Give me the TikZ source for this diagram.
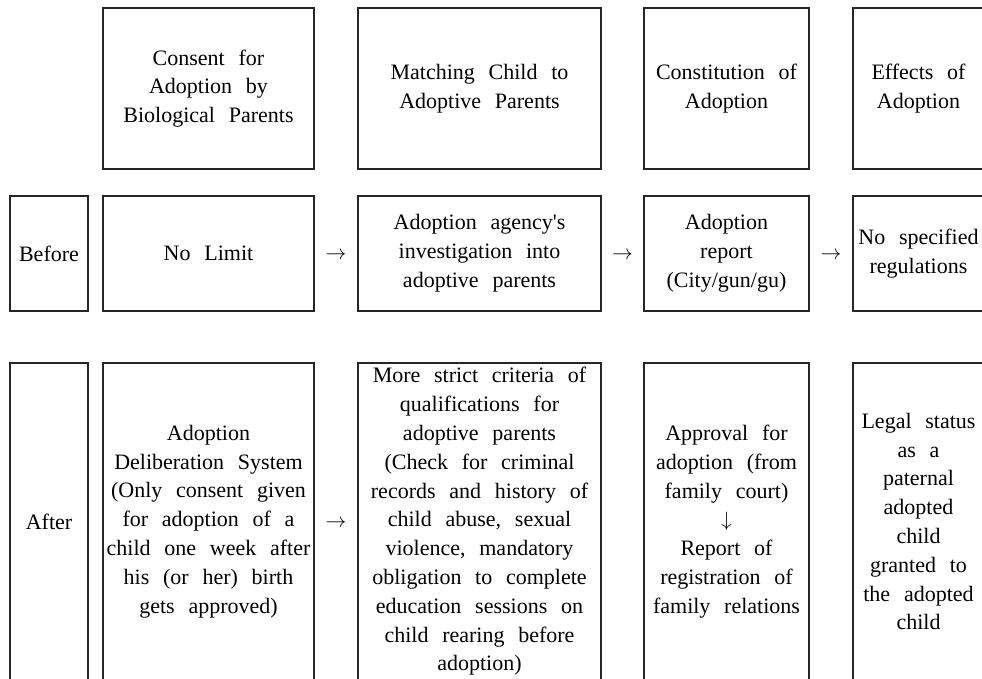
\documentclass[tikz,border=0pt]{standalone}
\usepackage{fontspec}
\setmainfont{Liberation Serif}[WordSpace=2.5]
\usetikzlibrary{calc}
\begin{document}
\begin{tikzpicture}[x=1pt,y=-1pt,
  cell/.style={draw=black!85,line width=1.1pt,align=center,inner sep=0pt,
    font=\fontsize{22}{28.8}\selectfont,text=black},
  toprow/.style={cell,minimum height=161pt},
  midrow/.style={cell,minimum height=115pt},
  botrow/.style={cell,minimum height=317pt},
  colL/.style={minimum width=78pt},
  colA/.style={minimum width=211pt},
  colB/.style={minimum width=243pt},
  colC/.style={minimum width=165pt},
  colD/.style={minimum width=131pt},
  arrowsign/.style={inner sep=0pt,font=\fontsize{20}{20}\selectfont,yshift=-2pt}]
\useasboundingbox (0,0) rectangle (982,678);
\clip (0,0) rectangle (982,678);
% top row
\node[toprow,colA] (h1) at (208.5,88.5) {Consent for\\Adoption by\\Biological Parents};
\node[toprow,colB] (h2) at (479.5,88.5) {Matching Child to\\Adoptive Parents};
\node[toprow,colC] (h3) at (726.5,88.5) {Constitution of\\Adoption};
\node[toprow,colD] (h4) at (918.5,88.5) {Effects of\\Adoption};
% middle row
\node[midrow,colL] (before) at (49,253.5) {Before};
\node[midrow,colA] (m1) at (208.5,253.5) {No Limit};
\node[midrow,colB] (m2) at (479.5,253.5) {Adoption agency\textquotesingle s\\investigation into\\adoptive parents};
\node[midrow,colC] (m3) at (726.5,253.5) {Adoption\\report\\(City/gun/gu)};
\node[midrow,colD] (m4) at (918.5,253.5) {No specified\\regulations};
% bottom row
\node[botrow,colL] (after) at (49,521.5) {After};
\node[botrow,colA] (b1) at (208.5,521.5) {Adoption\\Deliberation System\\(Only consent given\\for adoption of a\\child one week after\\his (or her) birth\\gets approved)};
\node[botrow,colB] (b2) at (479.5,521.5) {More strict criteria of\\qualifications for\\adoptive parents\\(Check for criminal\\records and history of\\child abuse, sexual\\violence, mandatory\\obligation to complete\\education sessions on\\child rearing before\\adoption)};
\node[botrow,colC] (b3) at (726.5,521.5) {Approval for\\adoption (from\\family court)\\$\downarrow$\\Report of\\registration of\\family relations};
\node[botrow,colD] (b4) at (918.5,521.5) {Legal status\\as a\\paternal\\adopted\\child\\granted to\\the adopted\\child};
% arrow signs
\node[arrowsign] (a1) at ($(m1.east)!0.5!(m2.west)$) {$\rightarrow$};
\node[arrowsign] (a2) at ($(m2.east)!0.5!(m3.west)$) {$\rightarrow$};
\node[arrowsign] (a3) at ($(m3.east)!0.5!(m4.west)$) {$\rightarrow$};
\node[arrowsign] (a4) at ($(b1.east)!0.5!(b2.west)$) {$\rightarrow$};
\end{tikzpicture}
\end{document}
